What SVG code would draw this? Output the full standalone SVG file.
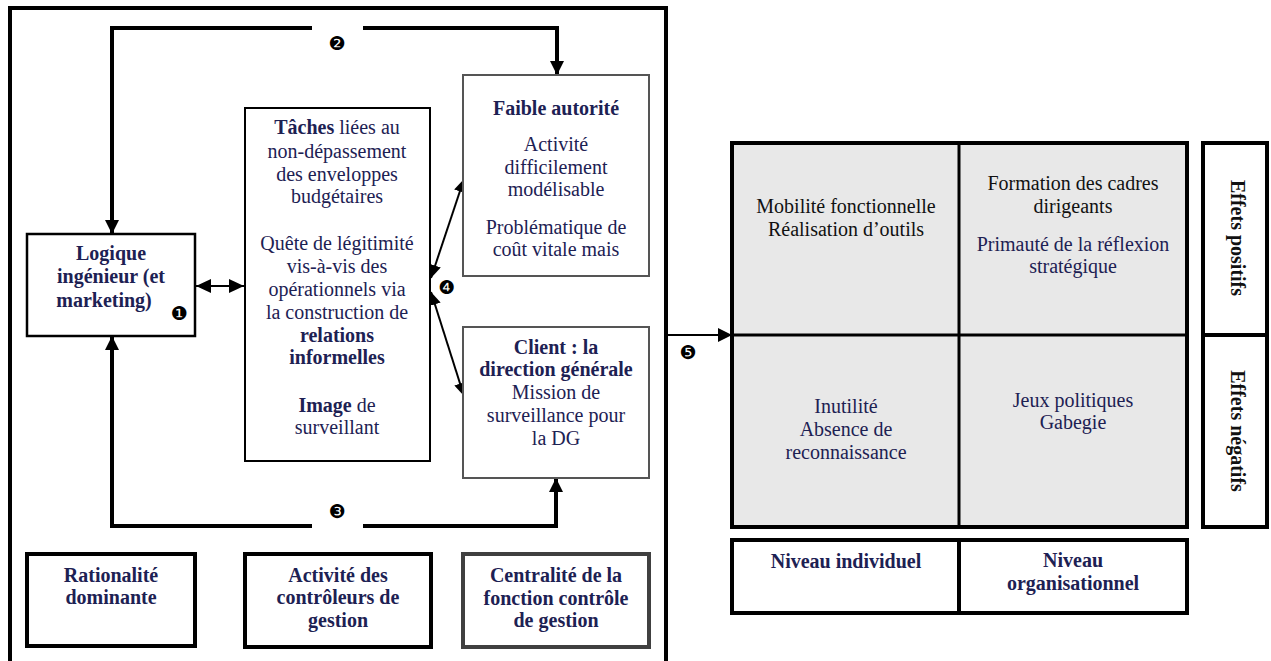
<svg xmlns="http://www.w3.org/2000/svg" width="1271" height="661" viewBox="0 0 1271 661">
<style>
text{font-family:"Liberation Serif","Times New Roman",serif;font-size:20px;fill:#1d2153;text-anchor:middle}
.b{font-weight:bold}
.k{fill:#111}
.num{font-family:"DejaVu Sans",sans-serif;font-size:19px;fill:#000}
.box{fill:#fff;stroke:#000}
.gbox{fill:#fff;stroke:#555;stroke-width:2}
.thick{fill:none;stroke:#000;stroke-width:4}
.thin{fill:none;stroke:#000;stroke-width:2}
</style>
<defs>
<marker id="ah" markerUnits="userSpaceOnUse" viewBox="0 0 14 14" markerWidth="14" markerHeight="14" refX="14" refY="7" orient="auto-start-reverse">
<path d="M0,0 L14,7 L0,14 Z" fill="#000"/>
</marker>
<marker id="am" markerUnits="userSpaceOnUse" viewBox="0 0 15 14" markerWidth="15" markerHeight="14" refX="15" refY="7" orient="auto-start-reverse">
<path d="M0,0 L15,7 L0,14 Z" fill="#000"/>
</marker>
<marker id="as" markerUnits="userSpaceOnUse" viewBox="0 0 13 12" markerWidth="13" markerHeight="12" refX="13" refY="6" orient="auto-start-reverse">
<path d="M0,0 L13,6 L0,12 Z" fill="#000"/>
</marker>
</defs>

<rect id="frame" x="10" y="8" width="656" height="670" fill="none" stroke="#000" stroke-width="4"/>

<g id="connectors">
<path class="thick" d="M312,28 H112 V234" marker-end="url(#ah)"/>
<path class="thick" d="M363,28 H557 V75" marker-end="url(#ah)"/>
<path class="thick" d="M312,526 H112 V336" marker-end="url(#ah)"/>
<path class="thick" d="M363,526 H556 V478" marker-end="url(#ah)"/>
<line class="thin" x1="196" y1="286" x2="244" y2="286" marker-start="url(#am)" marker-end="url(#am)"/>
<line class="thin" x1="431" y1="278" x2="464" y2="179" marker-start="url(#as)" marker-end="url(#as)"/>
<line class="thin" x1="431" y1="292" x2="464" y2="396" marker-start="url(#as)" marker-end="url(#as)"/>
<line class="thin" x1="666" y1="335" x2="732" y2="335" marker-end="url(#ah)"/>
<text class="num" x="337" y="50">❷</text>
<text class="num" x="337" y="518">❸</text>
<text class="num" x="447" y="294">❹</text>
<text class="num" x="688" y="359">❺</text>
</g>

<g id="logique">
<rect class="box" x="27" y="234" width="168" height="102" stroke-width="2.5"/>
<text class="b" x="111" y="260">Logique</text>
<text class="b" x="111" y="283">ingénieur (et</text>
<text class="b" x="104" y="307">marketing)</text>
<text class="num" x="179" y="320">❶</text>
</g>

<g id="taches">
<rect class="box" x="245" y="108" width="185" height="353" stroke-width="2"/>
<text x="337" y="134"><tspan class="b">Tâches</tspan> liées au</text>
<text x="337" y="158">non-dépassement</text>
<text x="337" y="181">des enveloppes</text>
<text x="337" y="203">budgétaires</text>
<text x="337" y="250">Quête de légitimité</text>
<text x="337" y="273">vis-à-vis des</text>
<text x="337" y="296">opérationnels via</text>
<text x="337" y="319">la construction de</text>
<text class="b" x="337" y="342">relations</text>
<text class="b" x="337" y="364">informelles</text>
<text x="337" y="412"><tspan class="b">Image</tspan> de</text>
<text x="337" y="434">surveillant</text>
</g>

<g id="faible">
<rect class="gbox" x="463" y="75" width="186" height="201"/>
<text class="b" x="556" y="115">Faible autorité</text>
<text x="556" y="151">Activité</text>
<text x="556" y="174">difficilement</text>
<text x="556" y="196">modélisable</text>
<text x="556" y="234">Problématique de</text>
<text x="556" y="256">coût vitale mais</text>
</g>

<g id="client">
<rect class="gbox" x="463" y="327" width="186" height="151"/>
<text class="b" x="556" y="354">Client : la</text>
<text class="b" x="556" y="376">direction générale</text>
<text x="556" y="399">Mission de</text>
<text x="556" y="422">surveillance pour</text>
<text x="556" y="445">la DG</text>
</g>

<g id="rationalite">
<rect class="box" x="27" y="554" width="168" height="92" stroke-width="4"/>
<text class="b" x="111" y="582">Rationalité</text>
<text class="b" x="111" y="604">dominante</text>
</g>

<g id="activite">
<rect class="box" x="245" y="554" width="186" height="93" stroke-width="4"/>
<text class="b" x="338" y="582">Activité des</text>
<text class="b" x="338" y="604">contrôleurs de</text>
<text class="b" x="338" y="627">gestion</text>
</g>

<g id="centralite">
<rect x="463" y="554" width="186" height="93" fill="#fff" stroke="#404040" stroke-width="4"/>
<text class="b" x="556" y="582">Centralité de la</text>
<text class="b" x="556" y="605">fonction contrôle</text>
<text class="b" x="556" y="627">de gestion</text>
</g>

<g id="grid">
<rect x="732" y="143" width="455" height="384" fill="#e8e8e8" stroke="#000" stroke-width="4"/>
<line x1="959" y1="143" x2="959" y2="527" stroke="#000" stroke-width="3"/>
<line x1="732" y1="335" x2="1187" y2="335" stroke="#000" stroke-width="3"/>
</g>

<g id="cell-ind-pos">
<text class="k" x="846" y="213">Mobilité fonctionnelle</text>
<text class="k" x="846" y="236">Réalisation d’outils</text>
</g>
<g id="cell-org-pos">
<text class="k" x="1073" y="190">Formation des cadres</text>
<text class="k" x="1073" y="213">dirigeants</text>
<text x="1073" y="251">Primauté de la réflexion</text>
<text x="1073" y="273">stratégique</text>
</g>
<g id="cell-ind-neg">
<text x="846" y="413">Inutilité</text>
<text x="846" y="436">Absence de</text>
<text x="846" y="459">reconnaissance</text>
</g>
<g id="cell-org-neg">
<text x="1073" y="407">Jeux politiques</text>
<text x="1073" y="429">Gabegie</text>
</g>

<g id="effets">
<rect x="1203" y="143" width="64" height="384" fill="#fff" stroke="#000" stroke-width="4"/>
<line x1="1203" y1="335" x2="1267" y2="335" stroke="#000" stroke-width="4"/>
<text class="b k" transform="translate(1231,238) rotate(90)">Effets positifs</text>
<text class="b k" transform="translate(1231,431) rotate(90)">Effets négatifs</text>
</g>

<g id="niveau-individuel">
<rect class="box" x="732" y="540" width="227" height="73" stroke-width="4"/>
<text class="b" x="846" y="568">Niveau individuel</text>
</g>
<g id="niveau-organisationnel">
<rect class="box" x="959" y="540" width="228" height="73" stroke-width="4"/>
<text class="b" x="1073" y="567">Niveau</text>
<text class="b" x="1073" y="590">organisationnel</text>
</g>
</svg>
